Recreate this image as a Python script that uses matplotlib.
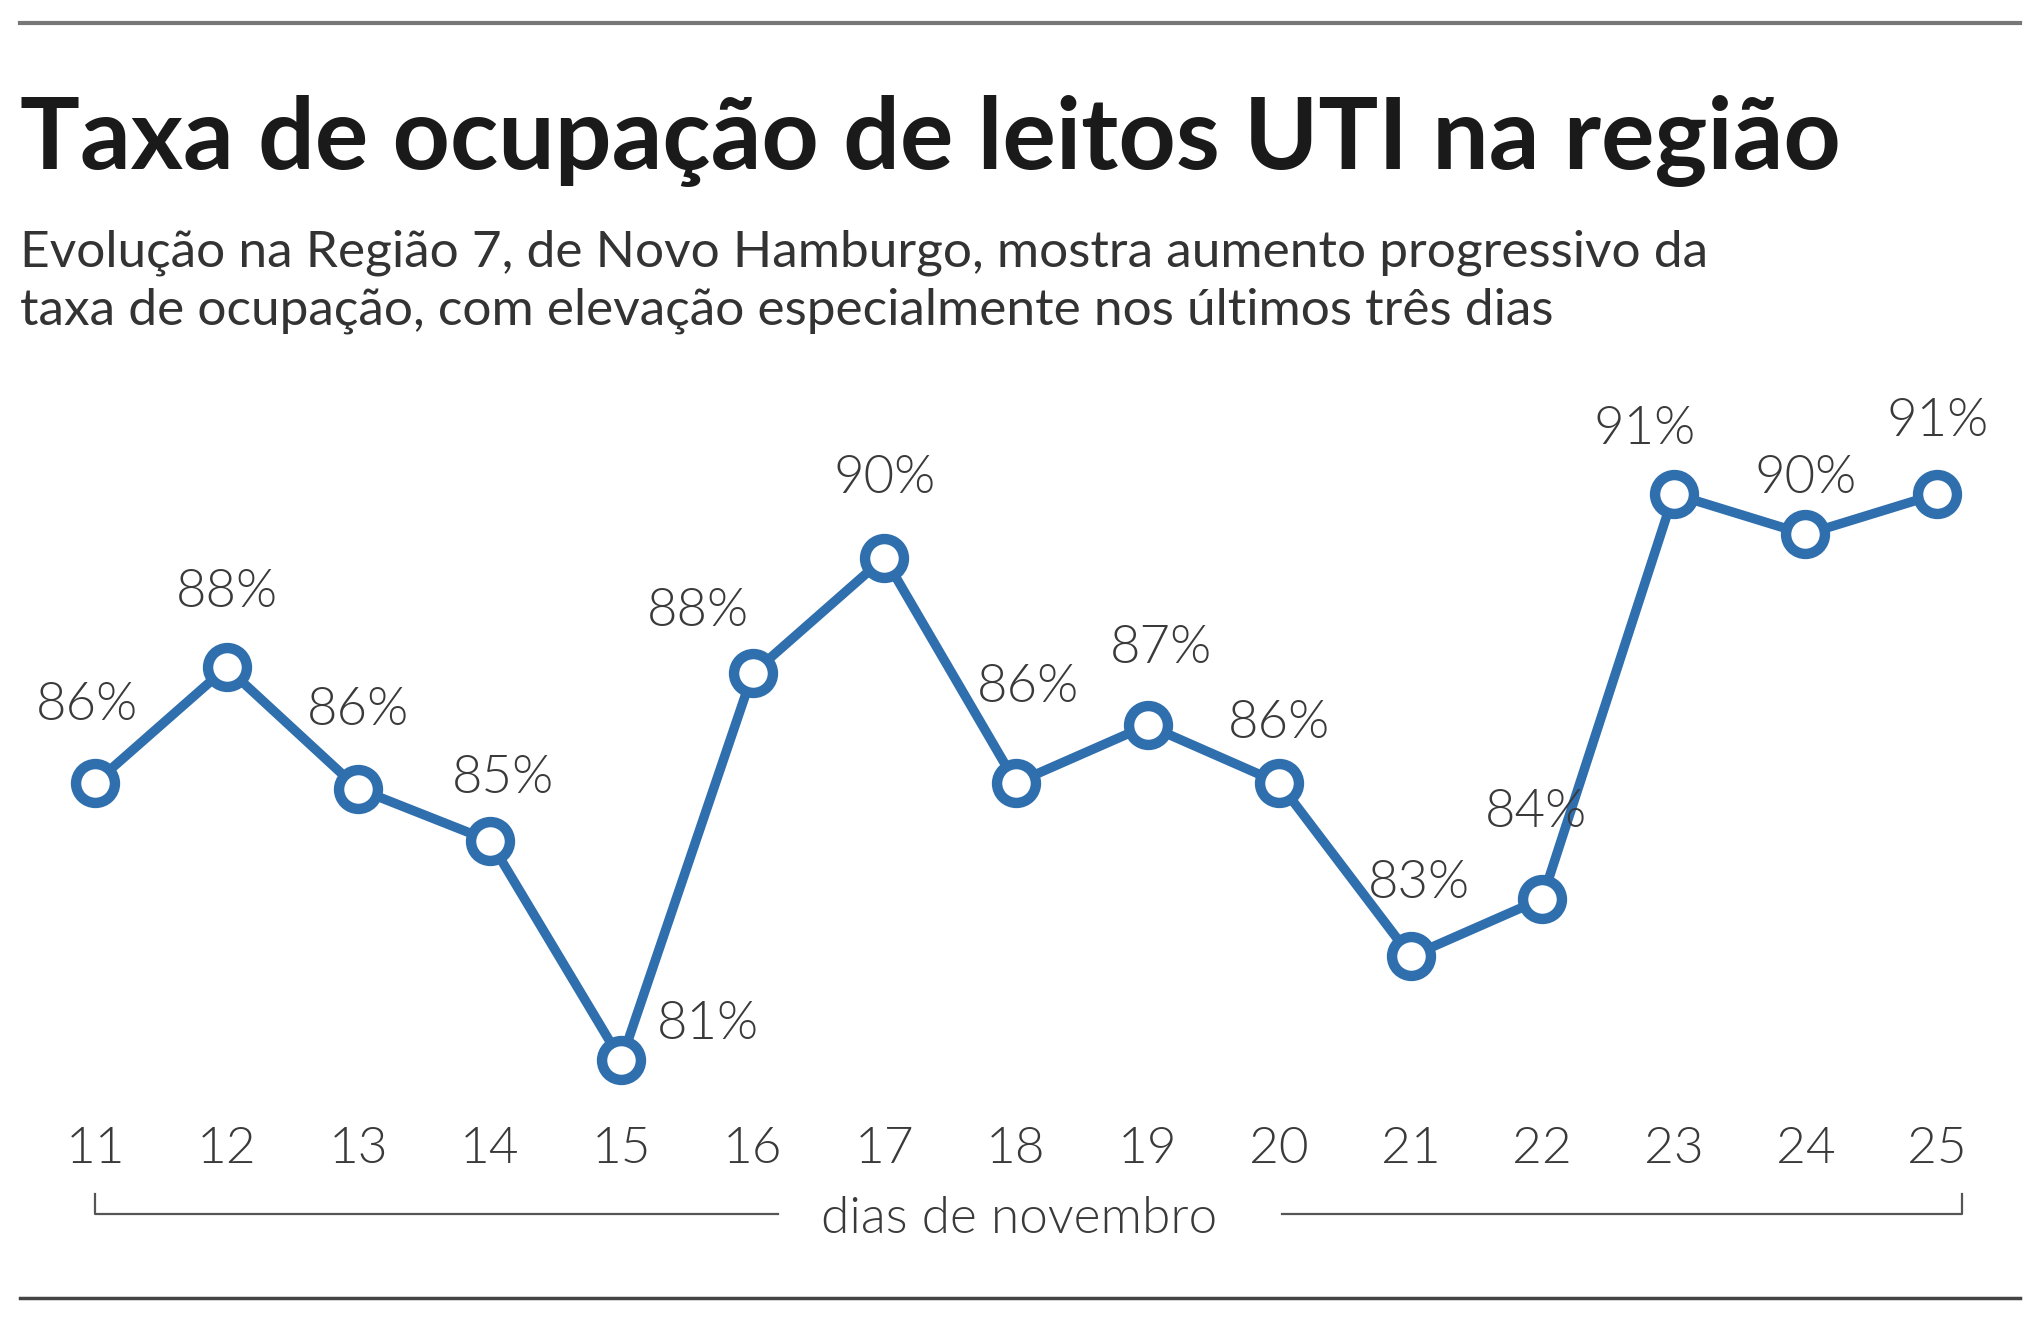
import matplotlib.pyplot as plt
from matplotlib.lines import Line2D

# dados: taxa de ocupação UTI, Região 7 (Novo Hamburgo), novembro
dias = [11, 12, 13, 14, 15, 16, 17, 18, 19, 20, 21, 22, 23, 24, 25]
taxa = [86.0, 88.0, 85.9, 85.0, 81.2, 87.9, 89.9, 86.0, 87.0, 86.0, 83.0, 84.0, 91.0, 90.3, 91.0]
rotulos = ['86%', '88%', '86%', '85%', '81%', '88%', '90%', '86%', '87%', '86%',
           '83%', '84%', '91%', '90%', '91%']

titulo = 'Taxa de ocupação de leitos UTI na região'
subtitulo = ['Evolução na Região 7, de Novo Hamburgo, mostra aumento progressivo da',
             'taxa de ocupação, com elevação especialmente nos últimos três dias']
eixo_x = 'dias de novembro'

# posicao de cada rotulo em relacao ao ponto (pixels)
offsets = [(-8, 77), (0, 75), (0, 78), (13, 62), (87, 36), (-55, 62), (0, 79), (12, 95),
           (13, 77), (0, 60), (8, 73), (-6, 86), (-29, 65), (0, 56), (1, 72)]

W, H = 2040, 1325
azul = '#2f6fae'
cinza = '#3a3a3a'
peso = 300  # Lato Light

fig = plt.figure(figsize=(W / 100, H / 100), dpi=100)
fig.patch.set_facecolor('white')

def fy(px):  # pixel from top -> figure fraction
    return 1 - px / H

def fx(px):
    return px / W

# eixos
ax_top, ax_bot = 380, 1100
ax = fig.add_axes([0, fy(ax_bot), 1, (ax_bot - ax_top) / H])
ax.plot(dias, taxa, '-o', color=azul, lw=6.8, ms=28, mfc='white', mec=azul, mew=7.5,
        clip_on=False, zorder=3)

ppx = (1937 - 95) / 14.0
ax.set_xlim(11 - 95 / ppx, 11 + (W - 95) / ppx)
py = 57.8
ax.set_ylim(86 - (ax_bot - 783) / py, 86 + (783 - ax_top) / py)

for d, v, r, (ox, oy) in zip(dias, taxa, rotulos, offsets):
    ax.annotate(r, (d, v), xytext=(ox, oy), textcoords='offset pixels', ha='center', va='center',
                fontsize=38, family='Lato', fontweight=peso, color=cinza)

ax.set_xticks(dias)
ax.set_xticklabels([str(d) for d in dias], family='Lato', fontweight=peso, fontsize=37, color=cinza)
ax.tick_params(axis='x', length=0, pad=19)
ax.set_yticks([])
for s in ax.spines.values():
    s.set_visible(False)
ax.patch.set_alpha(0)

# colchete "dias de novembro"
yb = fy(1214)
yt = fy(1194)
lc = '#555555'
fig.add_artist(Line2D([fx(95), fx(95), fx(778)], [yt, yb, yb], color=lc, lw=1.6))
fig.add_artist(Line2D([fx(1282), fx(1962), fx(1962)], [yb, yb, yt], color=lc, lw=1.6))
fig.text(fx(1019), fy(1219), eixo_x, ha='center', va='center', fontsize=37, family='Lato',
         fontweight=peso, color=cinza)

# filetes
fig.add_artist(Line2D([fx(20), fx(2020)], [fy(23), fy(23)], color='#777777', lw=3))
fig.add_artist(Line2D([fx(20), fx(2020)], [fy(1298), fy(1298)], color='#444444', lw=2.5))

# titulo e subtitulo
fig.text(fx(20), fy(169), titulo, ha='left', va='baseline', fontsize=72, family='Lato',
         fontweight='bold', color='#1a1a1a')
fig.text(fx(20), fy(267), subtitulo[0], ha='left', va='baseline', fontsize=37, family='Lato',
         color='#333333')
fig.text(fx(20), fy(325), subtitulo[1], ha='left', va='baseline', fontsize=37, family='Lato',
         color='#333333')

fig.savefig('out.png', dpi=100)
